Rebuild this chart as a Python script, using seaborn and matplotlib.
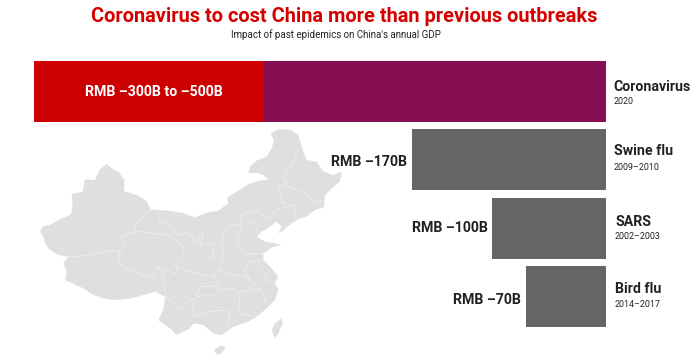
import matplotlib
matplotlib.use("Agg")
import matplotlib.pyplot as plt
from matplotlib.patches import Polygon
import numpy as np
import pandas as pd
import seaborn as sns

# ---- data ----
outbreaks = ["Coronavirus", "Swine flu", "SARS", "Bird flu"]
years = ["2020", "2009–2010", "2002–2003", "2014–2017"]
low_cost = [300, 170, 100, 70]
high_cost = [500, np.nan, np.nan, np.nan]
value_labels = ["RMB –300B to –500B", "RMB –170B", "RMB –100B", "RMB –70B"]
bar_colors = ["#880E54", "#666666", "#666666", "#666666"]

# ---- map outlines (traced, image units of the map artwork) ----
mainland = [(120,335),(130,318),(150,315),(175,300),(212,283),(218,262),(215,222),(248,215),(255,178),(285,180),(298,150),(320,132),(335,145),(355,155),(373,180),(372,213),(410,225),(440,243),(452,268),(500,272),(545,278),(585,292),(620,278),(655,272),(685,250),(682,232),(710,215),(750,190),(785,180),(805,180),(790,165),(770,158),(745,160),(750,140),(770,122),(800,110),(815,85),(822,60),(812,40),(835,28),(870,28),(895,45),(905,80),(920,120),(950,125),(970,155),(1000,165),(1025,155),(1020,185),(995,205),(975,225),(972,262),(945,270),(920,290),(900,295),(875,310),(845,335),(835,340),(845,320),(830,305),(810,320),(785,335),(770,350),(795,365),(815,368),(845,375),(820,380),(790,400),(790,420),(815,445),(835,470),(825,490),(835,510),(825,540),(800,565),(770,590),(745,605),(700,620),(665,645),(640,640),(610,615),(580,610),(570,625),(530,645),(510,625),(495,615),(475,600),(490,570),(495,530),(465,515),(430,525),(395,535),(345,540),(310,535),(280,525),(250,505),(195,480),(200,455),(190,430),(205,410),(175,405),(150,390),(135,370),(130,350)]
taiwan = [(815,630),(825,610),(845,595),(848,610),(835,640),(825,655)]
hainan = [(642,690),(660,678),(677,680),(665,700),(650,705)]
borders = [
    [(205,410),(250,408),(300,400),(335,390),(360,395)],
    [(360,395),(375,375),(365,350),(400,337),(430,335),(470,342),(500,345),(530,360),(555,385),(545,410),(525,430),(535,445)],
    [(360,395),(355,430),(385,450),(430,465),(455,475),(475,440),(500,450),(525,460),(535,445)],
    [(452,268),(430,290),(405,315),(403,337)],
    [(470,272),(480,300),(510,320),(530,345),(565,335),(585,370),(610,335),(600,375),(640,370),(640,410),(610,420)],
    [(475,440),(490,470),(497,530)],
    [(497,530),(520,550),(545,570),(560,545),(585,535)],
    [(535,445),(590,460),(635,470),(660,490),(640,500),(600,500),(590,530),(640,525)],
    [(585,535),(575,590),(620,575),(680,570),(690,585),(680,625)],
    [(650,510),(700,505),(720,520),(715,580),(760,590)],
    [(720,515),(780,505),(800,550)],
    [(780,505),(750,480),(735,455),(745,425),(790,420)],
    [(660,450),(700,465),(735,470),(750,480)],
    [(660,450),(670,400),(665,360),(680,320),(725,310),(720,285),(770,270),(800,295),(830,270),(880,255),(890,300)],
    [(725,310),(710,370),(735,400),(790,400)],
    [(660,450),(640,470)],
    [(740,315),(770,305),(775,340)],
    [(835,200),(860,190),(850,170),(880,130),(895,85)],
    [(835,200),(850,250),(880,255)],
    [(860,195),(920,225),(950,250),(972,240)],
    [(780,440),(800,480),(835,490)],
]

sns.set_theme(style="white")
plt.rcParams["font.family"] = ["Roboto", "DejaVu Sans"]

W, H = 699, 355
fig = plt.figure(figsize=(W / 100, H / 100), dpi=100, facecolor="white")


def rect(x0, y0, x1, y1):
    return [x0 / W, 1 - y1 / H, (x1 - x0) / W, (y1 - y0) / H]


# ---- map ----
mp = fig.add_axes([0, 0, 1, 1], zorder=0)
mp.set_xlim(0, W)
mp.set_ylim(H, 0)
mp.axis("off")


def to_px(pts):
    a = np.asarray(pts, float)
    return np.c_[a[:, 0] / 3, a[:, 1] / 3 + 120]


for shape in (mainland, taiwan, hainan):
    mp.add_patch(Polygon(to_px(shape), closed=True, fc="#DFDFDF", ec="none"))
for line in borders:
    p = to_px(line)
    mp.plot(p[:, 0], p[:, 1], color="white", lw=0.4, alpha=0.65)

# ---- bars ----
df = pd.DataFrame({"outbreak": outbreaks, "low": low_cost, "high": high_cost})
ax = fig.add_axes(rect(34, 57.35, 606, 330.65), zorder=1)
ax.patch.set_alpha(0)
sns.barplot(data=df, y="outbreak", x="high", order=outbreaks, color="#CC0000",
            saturation=1, width=0.893, linewidth=0, ax=ax)
sns.barplot(data=df, y="outbreak", x="low", order=outbreaks, hue="outbreak",
            palette=bar_colors, saturation=1, width=0.893, dodge=False, legend=False,
            linewidth=0, ax=ax)
ax.set_xlim(500, 0)
ax.set_ylim(3.5, -0.5)
ax.axis("off")

# ---- labels ----
ink = "#222222"
value_gap = [0, 4.5, 3.5, 5.5]
value_dy = [0, -2.5, 0, -3.5]
ax.annotate(value_labels[0], xy=(400, 0), xytext=(5, -0.5), textcoords="offset pixels",
            ha="center", va="center", color="white", fontsize=10.2, fontweight="bold")
for i in range(1, 4):
    ax.annotate(value_labels[i], xy=(low_cost[i], i), xytext=(-value_gap[i], value_dy[i]),
                textcoords="offset pixels", ha="right", va="center", color=ink,
                fontsize=10.2, fontweight="bold")

name_x = [7.5, 7.5, 9, 9]
name_dy = [4.5, 8.5, 6, 7.5]
year_dy = [-9.5, -7.5, -8, -8.5]
for i, (n, y) in enumerate(zip(outbreaks, years)):
    ax.annotate(n, xy=(0, i), xytext=(name_x[i], name_dy[i]), textcoords="offset pixels",
                ha="left", va="center", color=ink, fontsize=10.2, fontweight="bold")
    ax.annotate(y, xy=(0, i), xytext=(name_x[i], year_dy[i]), textcoords="offset pixels",
                ha="left", va="center", color=ink, fontsize=6.4)

fig.text(344 / W, 1 - 16.5 / H, "Coronavirus to cost China more than previous outbreaks",
         ha="center", va="center", color="#D40000", fontsize=14.45, fontweight="bold")
fig.text(335.5 / W, 1 - 34.5 / H, "Impact of past epidemics on China's annual GDP",
         ha="center", va="center", color=ink, fontsize=7.05)

fig.savefig("out.png", dpi=100)
